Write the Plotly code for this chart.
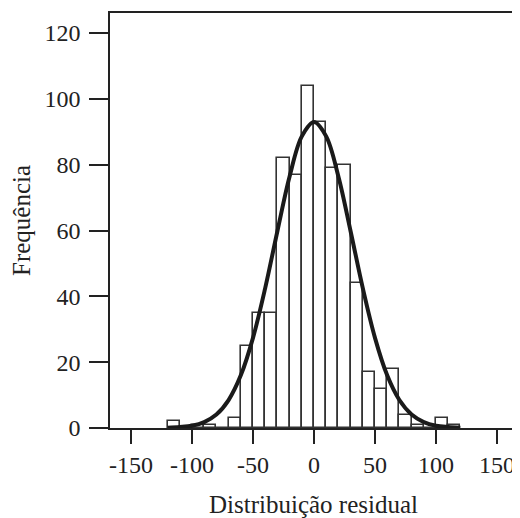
import plotly.graph_objects as go

# Histogram bins (left edges, width 10) and counts
bin_left = [-120, -110, -100, -90, -80, -70, -60, -50, -40, -30, -20, -10,
            0, 10, 20, 30, 40, 50, 60, 70, 80, 90, 100, 110]
counts = [2, 0, 1, 1, 0, 3, 25, 35, 35, 82, 77, 104,
          93, 79, 80, 44, 17, 12, 18, 4, 1, 0, 3, 1]
bin_width = 10

# Fitted normal curve
curve_x = [-120, -110, -100, -90, -80, -70, -60, -50, -40, -30, -20, -10, 0,
           10, 20, 30, 40, 50, 60, 70, 80, 90, 100, 110, 120]
curve_y = [0.1, 0.3, 0.7, 1.8, 4.1, 8.5, 16.0, 27.4, 42.5, 59.8, 76.4, 88.6, 93.0,
           88.6, 76.4, 59.8, 42.5, 27.4, 16.0, 8.5, 4.1, 1.8, 0.7, 0.3, 0.1]

x_ticks = [-150, -100, -50, 0, 50, 100, 150]
x_tick_labels = ["-150", "-100", "-50", "0", "50", "100", "150"]
y_ticks = [0, 20, 40, 60, 80, 100, 120]

centers = [b + bin_width / 2 for b in bin_left]

font_family = "Liberation Serif, Times New Roman, serif"
ink = "#222222"

fig = go.Figure()
fig.add_trace(go.Bar(
    x=centers, y=counts, width=bin_width,
    marker=dict(color="white", line=dict(color="#333333", width=1.6)),
    showlegend=False, hoverinfo="skip",
))
fig.add_trace(go.Scatter(
    x=curve_x, y=curve_y, mode="lines",
    line=dict(color="#1a1a1a", width=4, shape="spline"),
    showlegend=False, hoverinfo="skip",
))

fig.update_layout(
    width=512, height=510,
    margin=dict(l=102, r=3, t=5, b=90),
    paper_bgcolor="white", plot_bgcolor="white",
    font=dict(family=font_family, size=24, color=ink),
    bargap=0,
    xaxis=dict(
        range=[-167.2, 166.4], tickvals=x_ticks, ticktext=x_tick_labels,
        ticks="outside", ticklen=14, tickwidth=1.5, tickcolor=ink,
        showgrid=False, zeroline=False,
        showline=True, mirror=True, linewidth=1.6, linecolor=ink,
        tickfont=dict(size=24),
        title=dict(text="Distribuição residual", font=dict(size=25), standoff=20),
        automargin=False,
    ),
    yaxis=dict(
        range=[0, 126.1], tickvals=y_ticks, ticks="outside",
        ticklen=19, tickwidth=1.5, tickcolor=ink,
        showgrid=False, zeroline=False,
        showline=True, mirror=True, linewidth=1.6, linecolor=ink,
        tickfont=dict(size=24), ticklabelstandoff=4,
        title=dict(text="Frequência", font=dict(size=25), standoff=14),
        automargin=False,
    ),
)

fig.write_html("out.html")
